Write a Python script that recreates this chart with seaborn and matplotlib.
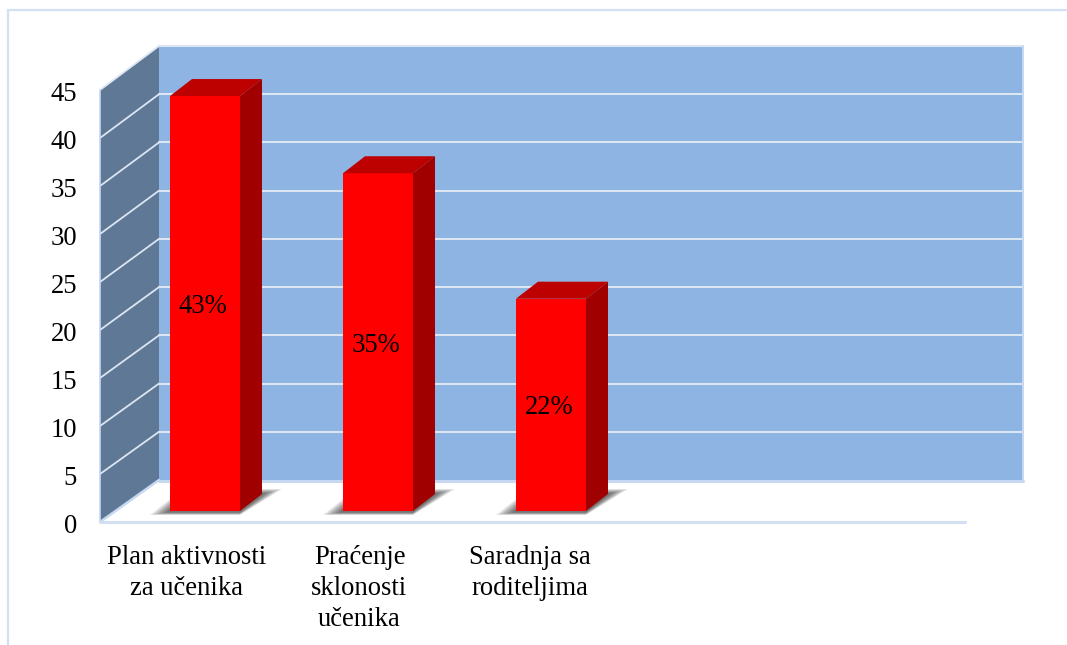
import pandas as pd
import seaborn as sns
import matplotlib.pyplot as plt
from matplotlib.patches import Polygon
from matplotlib.transforms import ScaledTranslation

# =========================
# DATA
# =========================

categories = ["Plan aktivnosti\nza učenika", "Praćenje\nsklonosti\nučenika", "Saradnja sa\nroditeljima"]
values = [43, 35, 22]
value_labels = ["43%", "35%", "22%"]
y_ticks = [0, 5, 10, 15, 20, 25, 30, 35, 40, 45]

# =========================
# CONFIG
# =========================

W, H = 1067, 645
WALL = "#8DB4E2"
SIDE_WALL = "#5F7895"
LINE = "#DCE6F2"
EDGE = "#D3E0F2"
FONT = "Liberation Serif"
FS = 19.2

sns.set_theme(style="white")
plt.rcParams["font.family"] = [FONT, "DejaVu Serif"]

fig = plt.figure(figsize=(W / 100, H / 100), dpi=100)
fig.patch.set_facecolor("white")

# =========================
# WALLS AND FLOOR (pixel coordinates of the picture)
# =========================

bg = fig.add_axes([0, 0, 1, 1])
bg.set_xlim(0, W)
bg.set_ylim(H, 0)
bg.axis("off")

bg.plot([8, 8], [H, 10], color=EDGE, lw=1.6)
bg.plot([8, W], [10, 10], color=EDGE, lw=1.6)

left, right, front_x, front_right = 159, 1023, 100, 965
back0, back45, front0, front45 = 480, 46, 522, 90

bg.add_patch(Polygon([(left, back45), (right, back45), (right, back0), (left, back0)], fc=WALL, ec="none"))
bg.add_patch(Polygon([(front_x, front45), (left, back45), (left, back0), (front_x, front0)], fc=SIDE_WALL, ec="none"))

for t in y_ticks:
    yb = back0 + (back45 - back0) * t / 45
    yf = front0 + (front45 - front0) * t / 45
    if t == 0:
        bg.plot([front_x, left], [yf, yb], color="#C6D9F1", lw=1.8)
        bg.plot([left, right], [yb + 1, yb + 1], color="#C6D9F1", lw=2.2)
    else:
        bg.plot([front_x, left], [yf, yb], color=LINE, lw=1.3)
        bg.plot([left, right], [yb, yb], color=LINE, lw=1.5)

bg.plot([right, right], [back45, back0], color="#C6D9F1", lw=1.4)
bg.plot([front_x, front_x], [front45, front0], color="#C6D9F1", lw=1.2)
bg.plot([front_x, front_right], [front0, front0], color=EDGE, lw=2.2)

# =========================
# BARS
# =========================

slot = 173.0
unit = 9.65
ax = fig.add_axes([0, 0, 1, 1])
df = pd.DataFrame({"category": categories, "value": values})
sns.barplot(data=df, x="category", y="value", color="#FF0000", saturation=1,
            width=70 / slot, linewidth=0, ax=ax, zorder=3)
ax.patch.set_alpha(0)
ax.set_xlim(-205 / slot, (W - 205) / slot)
ax.set_ylim(-(H - 511) / unit, 511 / unit)
ax.axis("off")

dx = 22 / slot
dy = 17 / unit

for bar in ax.containers[0]:
    x0, w, h = bar.get_x(), bar.get_width(), bar.get_height()
    x1 = x0 + w
    ax.add_patch(Polygon([(x0, h), (x0 + dx, h + dy), (x1 + dx, h + dy), (x1, h)],
                         fc="#BD0000", ec="none", zorder=3))
    ax.add_patch(Polygon([(x1, 0), (x1 + dx, dy), (x1 + dx, h + dy), (x1, h)],
                         fc="#A00000", ec="none", zorder=3))
    # soft shadow on the floor, stacked so that it fades out
    for g in [1.0, 0.88, 0.76, 0.64, 0.52, 0.4, 0.28, 0.16]:
        ax.add_patch(Polygon([(x0 - 20 * g / slot, -(1 + 3 * g) / unit),
                              (x1, -(1 + 3 * g) / unit),
                              (x1 + dx + 20 * g / slot, dy + 5 * g / unit),
                              (x1 + dx, dy + 5 * g / unit),
                              (x0, 12 * g / unit)],
                             fc="black", ec="none", alpha=0.09, zorder=2))

anns = ax.bar_label(ax.containers[0], labels=value_labels, label_type="center",
                    fontsize=FS, color="black", family=FONT, zorder=5)
for a in anns:
    a.xyann = (-1.4, -2.2)

# =========================
# AXIS TEXT (front plane of the chart)
# =========================

front = fig.add_axes([front_x / W, 1 - front0 / H, (front_right - front_x) / W, (front0 - front45) / H])
front.patch.set_alpha(0)
front.set_xlim(-0.5, 4.5)
front.set_ylim(0, 45)
front.set_yticks(y_ticks)
front.set_xticks(range(len(categories)))
front.set_xticklabels(categories, linespacing=1.34, ha="center", va="top")
front.tick_params(axis="y", length=0, pad=16.5, labelsize=FS, labelcolor="black")
front.tick_params(axis="x", length=0, pad=16.2, labelsize=FS, labelcolor="black")
for s in front.spines.values():
    s.set_visible(False)

for lab, off in zip(front.get_xticklabels(), [0, 0, -3]):
    lab.set_transform(lab.get_transform() + ScaledTranslation(off / 100, 0, fig.dpi_scale_trans))
for lab in front.get_yticklabels():
    lab.set_transform(lab.get_transform() + ScaledTranslation(0, -1.5 / 100, fig.dpi_scale_trans))

fig.savefig("out.png", dpi=100)
